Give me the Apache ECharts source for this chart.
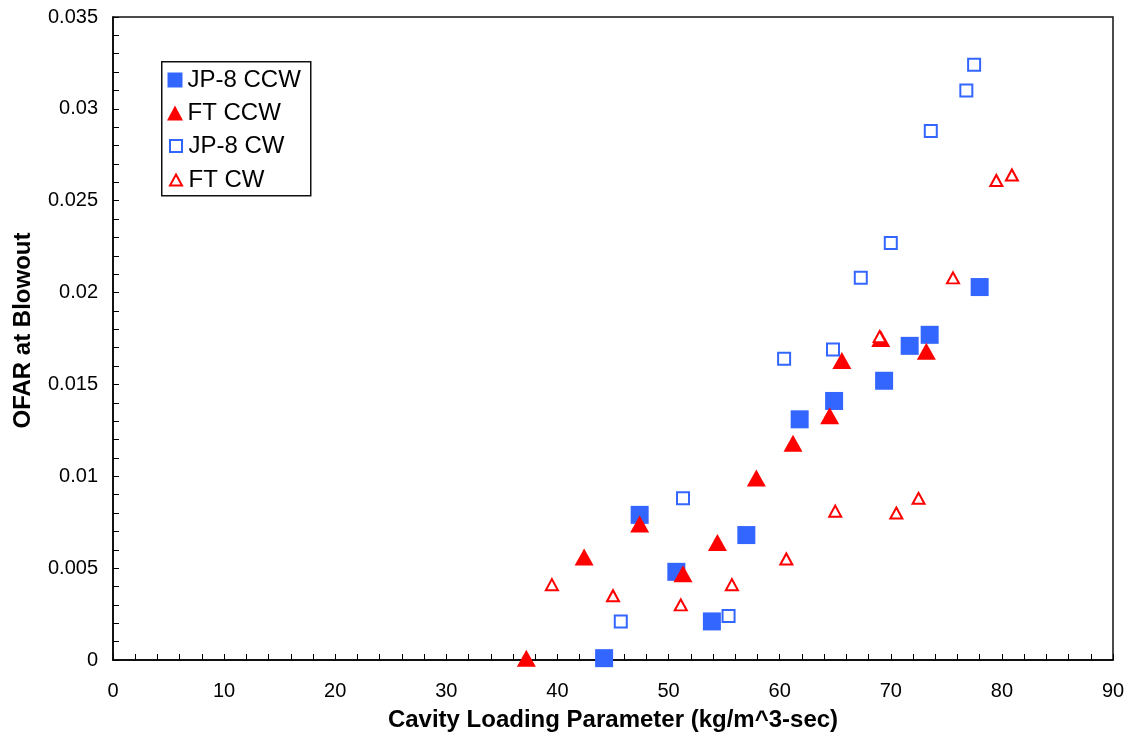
<!DOCTYPE html>
<html>
<head>
<meta charset="utf-8">
<script src="https://cdn.jsdelivr.net/npm/echarts@6/dist/echarts.min.js"></script>
<style>
html,body{margin:0;padding:0;background:#fff;}
#c{width:1130px;height:742px;}
</style>
</head>
<body>
<div id="c"></div>
<script>
// Data
const seriesNames = ['JP-8 CCW', 'FT CCW', 'JP-8 CW', 'FT CW'];

const jp8ccwX = [44.2, 47.4, 50.7, 53.9, 57.0, 61.8, 64.9, 69.4, 71.7, 73.5, 78.0];
const jp8ccwY = [0.0001, 0.0079, 0.0048, 0.0021, 0.0068, 0.0131, 0.0141, 0.0152, 0.0171, 0.0177, 0.0203];

const ftccwX = [37.2, 42.4, 47.4, 51.3, 54.4, 57.9, 61.2, 64.5, 65.6, 69.1, 73.2];
const ftccwY = [0.0001, 0.0056, 0.0074, 0.0047, 0.0064, 0.0099, 0.0118, 0.0133, 0.0163, 0.0175, 0.0168];

const jp8cwX = [45.7, 51.3, 55.4, 60.4, 64.8, 67.3, 70.0, 73.6, 76.8, 77.5];
const jp8cwY = [0.0021, 0.0088, 0.0024, 0.0164, 0.0169, 0.0208, 0.0227, 0.0288, 0.0310, 0.0324];

const ftcwX = [39.5, 45.0, 51.1, 55.7, 60.6, 65.0, 69.0, 70.5, 72.5, 75.6, 79.5, 80.9];
const ftcwY = [0.0041, 0.0035, 0.0030, 0.0041, 0.0055, 0.0081, 0.0176, 0.0080, 0.0088, 0.0208, 0.0261, 0.0264];

const xTitle = 'Cavity Loading Parameter (kg/m^3-sec)';
const yTitle = 'OFAR at Blowout';

function pairs(xs, ys) { return xs.map((x, i) => [x, ys[i]]); }

const FONT = "'Liberation Sans', Arial, sans-serif";
const BLUE = '#3366FF';
const RED = '#FF0000';

// legend layout: one legend per entry so each icon keeps its own size
const legendCenters = [80, 113, 146, 180];
const legendIcon = [[15, 15], [16, 15], [12, 12], [12, 11]];
const legends = seriesNames.map((n, i) => ({
  orient: 'vertical',
  left: 175 - legendIcon[i][0] / 2,
  top: legendCenters[i] - 12,
  padding: 0,
  itemWidth: legendIcon[i][0], itemHeight: legendIcon[i][1],
  itemGap: 0,
  textStyle: {fontFamily: FONT, fontSize: 24, lineHeight: 24, color: '#000',
              padding: [0, 0, 0, (15 - legendIcon[i][0]) / 2]},
  selectedMode: false,
  data: [n]
}));

const chart = echarts.init(document.getElementById('c'), null, {renderer: 'canvas'});
chart.setOption({
  animation: false,
  backgroundColor: '#fff',
  textStyle: {fontFamily: FONT},
  grid: {left: 113, right: 17, top: 17, bottom: 82, show: true, borderColor: '#111', borderWidth: 1.5, backgroundColor: 'transparent'},
  graphic: [{
    type: 'rect', left: 161, top: 61, z: 0,
    shape: {width: 149, height: 134},
    style: {fill: '#fff', stroke: '#111', lineWidth: 1.5}
  }],
  legend: legends,
  xAxis: {
    type: 'value', min: 0, max: 90, interval: 10,
    name: xTitle, nameLocation: 'middle', nameGap: 48,
    nameTextStyle: {fontFamily: FONT, fontSize: 24, fontWeight: 'bold', color: '#000'},
    axisLine: {lineStyle: {color: '#000', width: 1.5}},
    axisTick: {inside: true, length: 6, lineStyle: {color: '#000'}},
    minorTick: {show: true, splitNumber: 5, length: 6, lineStyle: {color: '#000'}},
    axisLabel: {fontFamily: FONT, fontSize: 20, color: '#000', margin: 21},
    splitLine: {show: false}
  },
  yAxis: {
    type: 'value', min: 0, max: 0.035, interval: 0.005,
    name: yTitle, nameLocation: 'middle', nameGap: 78, nameRotate: 90,
    nameTextStyle: {fontFamily: FONT, fontSize: 24, fontWeight: 'bold', color: '#000', padding: [0, 0, 0, 16]},
    axisLine: {show: true, lineStyle: {color: '#000', width: 1.5}},
    axisTick: {show: true, inside: true, length: 6, lineStyle: {color: '#000'}},
    minorTick: {show: true, splitNumber: 5, length: 6, lineStyle: {color: '#000'}},
    axisLabel: {fontFamily: FONT, fontSize: 20, color: '#000', margin: 15},
    splitLine: {show: false}
  },
  series: [
    {name: seriesNames[0], type: 'scatter', symbol: 'rect', symbolSize: 18,
     itemStyle: {color: BLUE, opacity: 1}, data: pairs(jp8ccwX, jp8ccwY)},
    {name: seriesNames[1], type: 'scatter', symbol: 'triangle', symbolSize: [19, 17],
     itemStyle: {color: RED, opacity: 1}, data: pairs(ftccwX, ftccwY)},
    {name: seriesNames[2], type: 'scatter', symbol: 'rect', symbolSize: 12,
     itemStyle: {color: '#fff', borderColor: BLUE, borderWidth: 2, opacity: 1}, data: pairs(jp8cwX, jp8cwY)},
    {name: seriesNames[3], type: 'scatter', symbol: 'triangle', symbolSize: [12, 11],
     itemStyle: {color: '#fff', borderColor: RED, borderWidth: 2, opacity: 1}, data: pairs(ftcwX, ftcwY)}
  ]
});
</script>
</body>
</html>
